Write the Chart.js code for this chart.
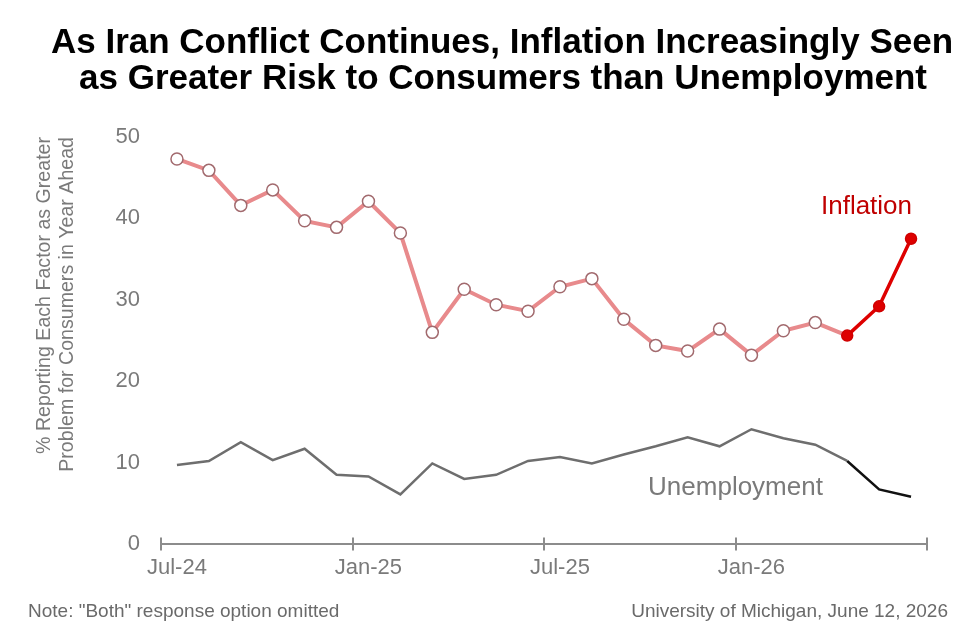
<!DOCTYPE html>
<html>
<head>
<meta charset="utf-8">
<script src="https://cdn.jsdelivr.net/npm/chart.js@4.4.1/dist/chart.umd.min.js"></script>
<style>
  html, body { margin: 0; padding: 0; background: #ffffff; }
  #wrap { width: 975px; height: 633px; }
</style>
</head>
<body>
<div id="wrap"><canvas id="c" width="975" height="633"></canvas></div>
<script>
// ---- Data ----
const months = ["Jul-24","Aug-24","Sep-24","Oct-24","Nov-24","Dec-24",
                "Jan-25","Feb-25","Mar-25","Apr-25","May-25","Jun-25",
                "Jul-25","Aug-25","Sep-25","Oct-25","Nov-25","Dec-25",
                "Jan-26","Feb-26","Mar-26","Apr-26","May-26","Jun-26"];
const inflation = [47.3, 45.9, 41.6, 43.5, 39.7, 38.9, 42.1, 38.2, 26.0, 31.3, 29.4, 28.6,
                   31.6, 32.6, 27.6, 24.4, 23.7, 26.4, 23.2, 26.2, 27.2, 25.6, 29.2, 37.5];
const unemployment = [9.7, 10.2, 12.5, 10.3, 11.7, 8.5, 8.3, 6.1, 9.9, 8.0, 8.5, 10.2,
                      10.7, 9.9, 11.0, 12.0, 13.1, 12.0, 14.1, 13.0, 12.2, 10.2, 6.7, 5.8];
const yTicks = [0, 10, 20, 30, 40, 50];
const labeledEvery = 6;       // show a tick label every 6 months
const highlightFrom = 21;     // latest months highlighted (Apr-26 onward)

const titleLines = ["As Iran Conflict Continues, Inflation Increasingly Seen",
                    "as Greater Risk to Consumers than Unemployment"];
const yTitle = ["% Reporting Each Factor as Greater", "Problem for Consumers in Year Ahead"];
const noteText = 'Note: "Both" response option omitted';
const sourceText = "University of Michigan, June 12, 2026";

const FONT = '"Liberation Sans", Arial, Helvetica, sans-serif';
const GRAY = '#7a7a7a';

// ---- Plugins ----
const decorations = {
  id: 'decorations',
  afterDraw(chart) {
    const {ctx} = chart;
    const xs = chart.scales.x, ys = chart.scales.y;
    ctx.save();
    // Title
    ctx.fillStyle = '#000';
    ctx.font = 'bold 35px ' + FONT;
    ctx.textAlign = 'center';
    ctx.textBaseline = 'alphabetic';
    ctx.fillText(titleLines[0], 502, 53, 902);
    ctx.fillText(titleLines[1], 503, 89, 848);

    // x-axis tick marks at 6-month boundaries
    const step = xs.getPixelForValue(1) - xs.getPixelForValue(0);
    const yAxis = ys.getPixelForValue(0);
    ctx.strokeStyle = '#8c8c8c';
    ctx.lineWidth = 2;
    for (let i = 0; i <= months.length; i += labeledEvery) {
      const x = Math.round(xs.getPixelForValue(i) - step / 2);
      ctx.beginPath();
      ctx.moveTo(x, yAxis - 6.5);
      ctx.lineTo(x, yAxis + 6.5);
      ctx.stroke();
    }

    // Series labels
    ctx.font = '26px ' + FONT;
    ctx.textBaseline = 'middle';
    ctx.fillStyle = '#c00000';
    ctx.textAlign = 'right';
    ctx.fillText('Inflation', xs.getPixelForValue(23) + 1, ys.getPixelForValue(41.4));
    ctx.fillStyle = GRAY;
    ctx.textAlign = 'center';
    ctx.fillText('Unemployment', xs.getPixelForValue(17.5), ys.getPixelForValue(6.85));

    // Footer notes
    ctx.font = '19px ' + FONT;
    ctx.fillStyle = '#6a6a6a';
    ctx.textBaseline = 'alphabetic';
    ctx.textAlign = 'left';
    ctx.fillText(noteText, 28, 617);
    ctx.textAlign = 'right';
    ctx.fillText(sourceText, 948, 617);
    ctx.restore();
  }
};

const PINK = '#e88a8c';
const RED = '#de0000';

new Chart(document.getElementById('c'), {
  type: 'line',
  data: {
    labels: months,
    datasets: [
      {
        label: 'Unemployment',
        data: unemployment,
        borderColor: '#6e6e6e',
        borderWidth: 2.5,
        pointRadius: 0,
        tension: 0,
        segment: {
          borderColor: ctx => ctx.p0DataIndex >= highlightFrom ? '#111111' : '#6e6e6e'
        }
      },
      {
        label: 'Inflation',
        data: inflation,
        borderColor: PINK,
        borderWidth: 4,
        tension: 0,
        pointRadius: ctx => ctx.dataIndex >= highlightFrom ? 5.5 : 6,
        pointBorderWidth: 1.5,
        pointBackgroundColor: ctx => ctx.dataIndex >= highlightFrom ? RED : '#ffffff',
        pointBorderColor: ctx => ctx.dataIndex >= highlightFrom ? '#d00000' : '#a26a6e',
        segment: {
          borderColor: ctx => ctx.p0DataIndex >= highlightFrom ? RED : PINK,
          borderWidth: ctx => ctx.p0DataIndex >= highlightFrom ? 3.5 : 4
        }
      }
    ]
  },
  options: {
    responsive: false,
    animation: false,
    devicePixelRatio: 1,
    layout: { padding: { top: 137, left: 0, right: 48, bottom: 0 } },
    plugins: {
      legend: { display: false },
      tooltip: { enabled: false },
      title: { display: false }
    },
    scales: {
      x: {
        type: 'category',
        offset: true,
        grid: { display: false, drawTicks: false, offset: true },
        border: { display: true, color: '#8c8c8c', width: 2 },
        ticks: {
          autoSkip: false,
          maxRotation: 0,
          minRotation: 0,
          padding: 11,
          color: GRAY,
          font: { family: FONT, size: 22 },
          callback: (v, i) => (i % labeledEvery === 0 ? months[i] : '')
        },
        afterFit: s => { s.height = 89; }
      },
      y: {
        min: 0,
        max: 50,
        grid: { display: false, drawTicks: false },
        border: { display: false },
        afterBuildTicks: s => { s.ticks = yTicks.map(v => ({ value: v })); },
        ticks: {
          padding: 21,
          color: GRAY,
          font: { family: FONT, size: 22 }
        },
        title: {
          display: true,
          text: yTitle,
          align: 'end',
          color: GRAY,
          font: { family: FONT, size: 19.6, lineHeight: 1.17 },
          padding: { top: 33.5, bottom: 0 }
        },
        afterFit: s => { s.width = 161; }
      }
    }
  },
  plugins: [decorations]
});
</script>
</body>
</html>
